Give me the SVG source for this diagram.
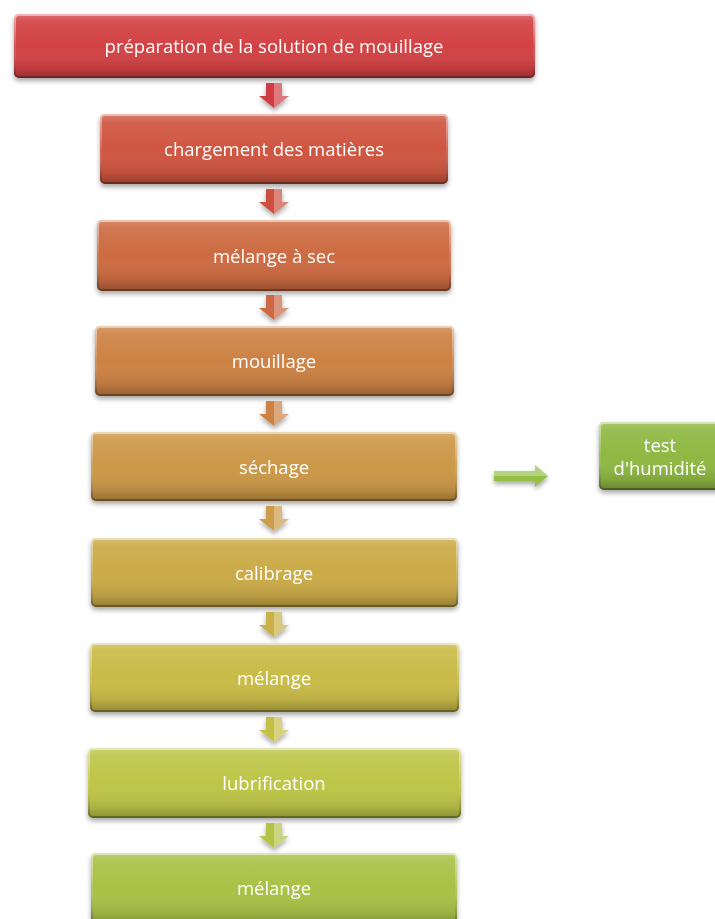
<svg xmlns="http://www.w3.org/2000/svg" width="715" height="919" viewBox="0 0 715 919">
<defs>
<style>
.lbl{font-family:"Open Sans","Liberation Sans",sans-serif;font-size:18.5px;fill:#ffffff;text-anchor:middle;dominant-baseline:central}
.shade{fill:url(#shade)}
.bevel{fill:none;stroke:url(#bevel);stroke-width:2}
.hl{fill:#ffffff;fill-opacity:0.3}
</style>
<linearGradient id="shade" x1="0" y1="0" x2="0" y2="1">
<stop offset="0" stop-color="#ffffff" stop-opacity="0.22"/>
<stop offset="0.12" stop-color="#ffffff" stop-opacity="0.08"/>
<stop offset="0.5" stop-color="#ffffff" stop-opacity="0"/>
<stop offset="0.85" stop-color="#000000" stop-opacity="0.1"/>
<stop offset="1" stop-color="#000000" stop-opacity="0.28"/>
</linearGradient>
<linearGradient id="bevel" x1="0" y1="0" x2="0" y2="1">
<stop offset="0" stop-color="#ffffff" stop-opacity="0.5"/>
<stop offset="0.5" stop-color="#ffffff" stop-opacity="0.1"/>
<stop offset="1" stop-color="#000000" stop-opacity="0.3"/>
</linearGradient>
<filter id="shadow" x="-5%" y="-10%" width="110%" height="130%">
<feGaussianBlur in="SourceAlpha" stdDeviation="2.5"/>
<feOffset dx="0" dy="3" result="b"/>
<feComponentTransfer><feFuncA type="linear" slope="0.35"/></feComponentTransfer>
<feMerge><feMergeNode/><feMergeNode in="SourceGraphic"/></feMerge>
</filter>
<path id="down" d="M-8,0 H8 V13 H15 L0,25 L-15,13 H-8 Z"/>
<path id="downhl" d="M0,0 H8 V13 H15 L0,25 Z"/>
</defs>

<g id="node1" filter="url(#shadow)">
<rect x="14" y="14" width="521" height="64" rx="5" fill="#d24244"/>
<rect x="14" y="14" width="521" height="64" rx="5" class="shade"/>
<rect x="15" y="15" width="519" height="62" rx="4" class="bevel"/>
<text x="274" y="45" class="lbl">préparation de la solution de mouillage</text>
</g>
<g id="node2" filter="url(#shadow)">
<rect x="100" y="114" width="348" height="70" rx="5" fill="#cf5641"/>
<rect x="100" y="114" width="348" height="70" rx="5" class="shade"/>
<rect x="101" y="115" width="346" height="68" rx="4" class="bevel"/>
<text x="274" y="148" class="lbl">chargement des matières</text>
</g>
<g id="node3" filter="url(#shadow)">
<rect x="97" y="220" width="354" height="71" rx="5" fill="#cd6b42"/>
<rect x="97" y="220" width="354" height="71" rx="5" class="shade"/>
<rect x="98" y="221" width="352" height="69" rx="4" class="bevel"/>
<text x="274" y="255" class="lbl">mélange à sec</text>
</g>
<g id="node4" filter="url(#shadow)">
<rect x="95" y="326" width="359" height="70" rx="5" fill="#cd8244"/>
<rect x="95" y="326" width="359" height="70" rx="5" class="shade"/>
<rect x="96" y="327" width="357" height="68" rx="4" class="bevel"/>
<text x="274" y="360" class="lbl">mouillage</text>
</g>
<g id="node5" filter="url(#shadow)">
<rect x="91" y="432" width="366" height="69" rx="5" fill="#cc9848"/>
<rect x="91" y="432" width="366" height="69" rx="5" class="shade"/>
<rect x="92" y="433" width="364" height="67" rx="4" class="bevel"/>
<text x="274" y="466" class="lbl">séchage</text>
</g>
<g id="node6" filter="url(#shadow)">
<rect x="91" y="538" width="367" height="69" rx="5" fill="#cbab48"/>
<rect x="91" y="538" width="367" height="69" rx="5" class="shade"/>
<rect x="92" y="539" width="365" height="67" rx="4" class="bevel"/>
<text x="274" y="572" class="lbl">calibrage</text>
</g>
<g id="node7" filter="url(#shadow)">
<rect x="90" y="643" width="369" height="69" rx="5" fill="#c9bb48"/>
<rect x="90" y="643" width="369" height="69" rx="5" class="shade"/>
<rect x="91" y="644" width="367" height="67" rx="4" class="bevel"/>
<text x="274" y="677" class="lbl">mélange</text>
</g>
<g id="node8" filter="url(#shadow)">
<rect x="88" y="748" width="373" height="70" rx="5" fill="#bec548"/>
<rect x="88" y="748" width="373" height="70" rx="5" class="shade"/>
<rect x="89" y="749" width="371" height="68" rx="4" class="bevel"/>
<text x="274" y="782" class="lbl">lubrification</text>
</g>
<g id="node9" filter="url(#shadow)">
<rect x="91" y="853" width="366" height="72" rx="5" fill="#a9c146"/>
<rect x="91" y="853" width="366" height="72" rx="5" class="shade"/>
<rect x="92" y="854" width="364" height="70" rx="4" class="bevel"/>
<text x="274" y="887" class="lbl">mélange</text>
</g>
<g id="node10" filter="url(#shadow)">
<rect x="599" y="422" width="130" height="68" rx="5" fill="#8fb843"/>
<rect x="599" y="422" width="130" height="68" rx="5" class="shade"/>
<rect x="600" y="423" width="128" height="66" rx="4" class="bevel"/>
<text x="660" y="444" class="lbl">test</text>
<text x="660" y="467" class="lbl">d'humidité</text>
</g>

<g id="connectors" filter="url(#shadow)">
<g transform="translate(274,83)"><use href="#down" fill="#cf3e42"/><use href="#downhl" class="hl"/></g>
<g transform="translate(274,189)"><use href="#down" fill="#cc5040"/><use href="#downhl" class="hl"/></g>
<g transform="translate(274,295)"><use href="#down" fill="#cc6842"/><use href="#downhl" class="hl"/></g>
<g transform="translate(274,401)"><use href="#down" fill="#cc8244"/><use href="#downhl" class="hl"/></g>
<g transform="translate(274,506)"><use href="#down" fill="#cc9c48"/><use href="#downhl" class="hl"/></g>
<g transform="translate(274,612)"><use href="#down" fill="#c9b048"/><use href="#downhl" class="hl"/></g>
<g transform="translate(274,717)"><use href="#down" fill="#c4bf46"/><use href="#downhl" class="hl"/></g>
<g transform="translate(274,823)"><use href="#down" fill="#b4c346"/><use href="#downhl" class="hl"/></g>
<g transform="translate(494,476)">
<path d="M0,-5 H41 V-11 L54,0 L41,11 V5 H0 Z" fill="#93c044"/>
<path d="M0,-5 H41 V-11 L54,0 H0 Z" class="hl"/>
</g>
</g>
</svg>
